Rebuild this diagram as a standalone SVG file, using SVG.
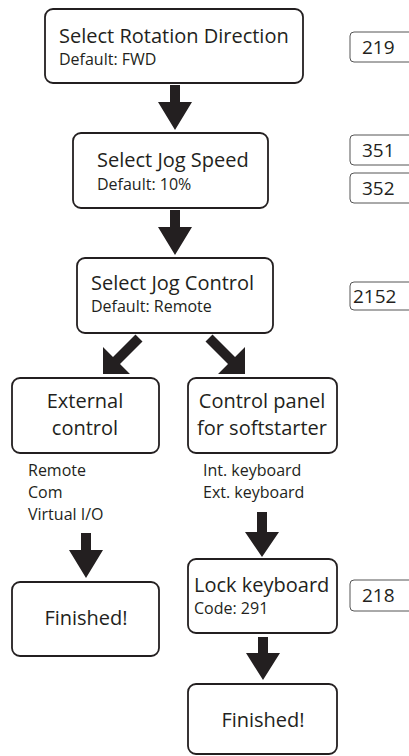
<svg xmlns="http://www.w3.org/2000/svg" width="409" height="756" viewBox="0 0 409 756">
<style>
.box{fill:#fff;stroke:#231f20;stroke-width:1.8}
.num{fill:#fff;stroke:#555;stroke-width:1}
.t{font-family:"Open Sans","Noto Sans",sans-serif;fill:#231f20}
.big{font-size:20px}
.sm{font-size:16px}
.n{font-size:19px}
.arr{fill:#231f20}
</style>
<rect width="409" height="756" fill="#fff"/>
<g id="connectors">
<polygon class="arr" points="170,85 180,85 180,102 192,102 175,130 158,102 170,102"/>
<polygon class="arr" points="170,210 180,210 180,227 192,227 175,255 158,227 170,227"/>
<polygon class="arr" points="103,374 103,347 113,357 135.5,334.5 142.5,341.5 120,364 130,374"/>
<polygon class="arr" points="245,374 245,347 235,357 212.5,334.5 205.5,341.5 228,364 218,374"/>
<polygon class="arr" points="257,512 267,512 267,532 279,532 262,557 245,532 257,532"/>
<polygon class="arr" points="81,533 91,533 91,550 103,550 86,578 69,550 81,550"/>
<polygon class="arr" points="258,637 268,637 268,653 280,653 263,680 246,653 258,653"/>
</g>
<g id="n-rotation">
<rect class="box" x="45" y="9" width="258" height="74" rx="8"/>
<text class="t big" x="59" y="43">Select Rotation Direction</text>
<text class="t sm" x="59" y="65">Default: FWD</text>
</g>
<g id="n-jogspeed">
<rect class="box" x="73" y="133" width="195" height="75" rx="8"/>
<text class="t big" x="97" y="167">Select Jog Speed</text>
<text class="t sm" x="97" y="190">Default: 10%</text>
</g>
<g id="n-jogcontrol">
<rect class="box" x="77" y="258" width="196" height="75" rx="8"/>
<text class="t big" x="91" y="290">Select Jog Control</text>
<text class="t sm" x="91" y="312">Default: Remote</text>
</g>
<g id="n-external">
<rect class="box" x="12" y="378" width="147" height="75" rx="8"/>
<text class="t big" x="85" y="408" text-anchor="middle">External</text>
<text class="t big" x="85" y="435" text-anchor="middle">control</text>
</g>
<g id="n-panel">
<rect class="box" x="188" y="378" width="149" height="75" rx="8"/>
<text class="t big" x="262" y="408" text-anchor="middle">Control panel</text>
<text class="t big" x="262" y="435" text-anchor="middle">for softstarter</text>
</g>
<g id="l-external">
<text class="t sm" x="28" y="476">Remote</text>
<text class="t sm" x="28" y="498">Com</text>
<text class="t sm" x="28" y="520">Virtual I/O</text>
</g>
<g id="l-panel">
<text class="t sm" x="203" y="476">Int. keyboard</text>
<text class="t sm" x="203" y="498">Ext. keyboard</text>
</g>
<g id="n-lock">
<rect class="box" x="188" y="559" width="149" height="74" rx="8"/>
<text class="t big" x="194" y="592">Lock keyboard</text>
<text class="t sm" x="194" y="614">Code: 291</text>
</g>
<g id="n-finished1">
<rect class="box" x="12" y="582" width="147" height="74" rx="8"/>
<text class="t big" x="86" y="625" text-anchor="middle">Finished!</text>
</g>
<g id="n-finished2">
<rect class="box" x="188" y="684" width="149" height="70" rx="8"/>
<text class="t big" x="263" y="727" text-anchor="middle">Finished!</text>
</g>
<g id="p-219">
<rect class="num" x="350" y="32" width="70" height="30" rx="4"/>
<text class="t n" x="362" y="54">219</text>
</g>
<g id="p-351">
<rect class="num" x="350" y="135" width="70" height="30" rx="4"/>
<text class="t n" x="362" y="157">351</text>
</g>
<g id="p-352">
<rect class="num" x="350" y="173" width="70" height="30" rx="4"/>
<text class="t n" x="362" y="195">352</text>
</g>
<g id="p-2152">
<rect class="num" x="350" y="282" width="70" height="28" rx="4"/>
<text class="t n" x="353" y="303">2152</text>
</g>
<g id="p-218">
<rect class="num" x="350" y="580" width="70" height="31" rx="4"/>
<text class="t n" x="362" y="602">218</text>
</g>
</svg>
